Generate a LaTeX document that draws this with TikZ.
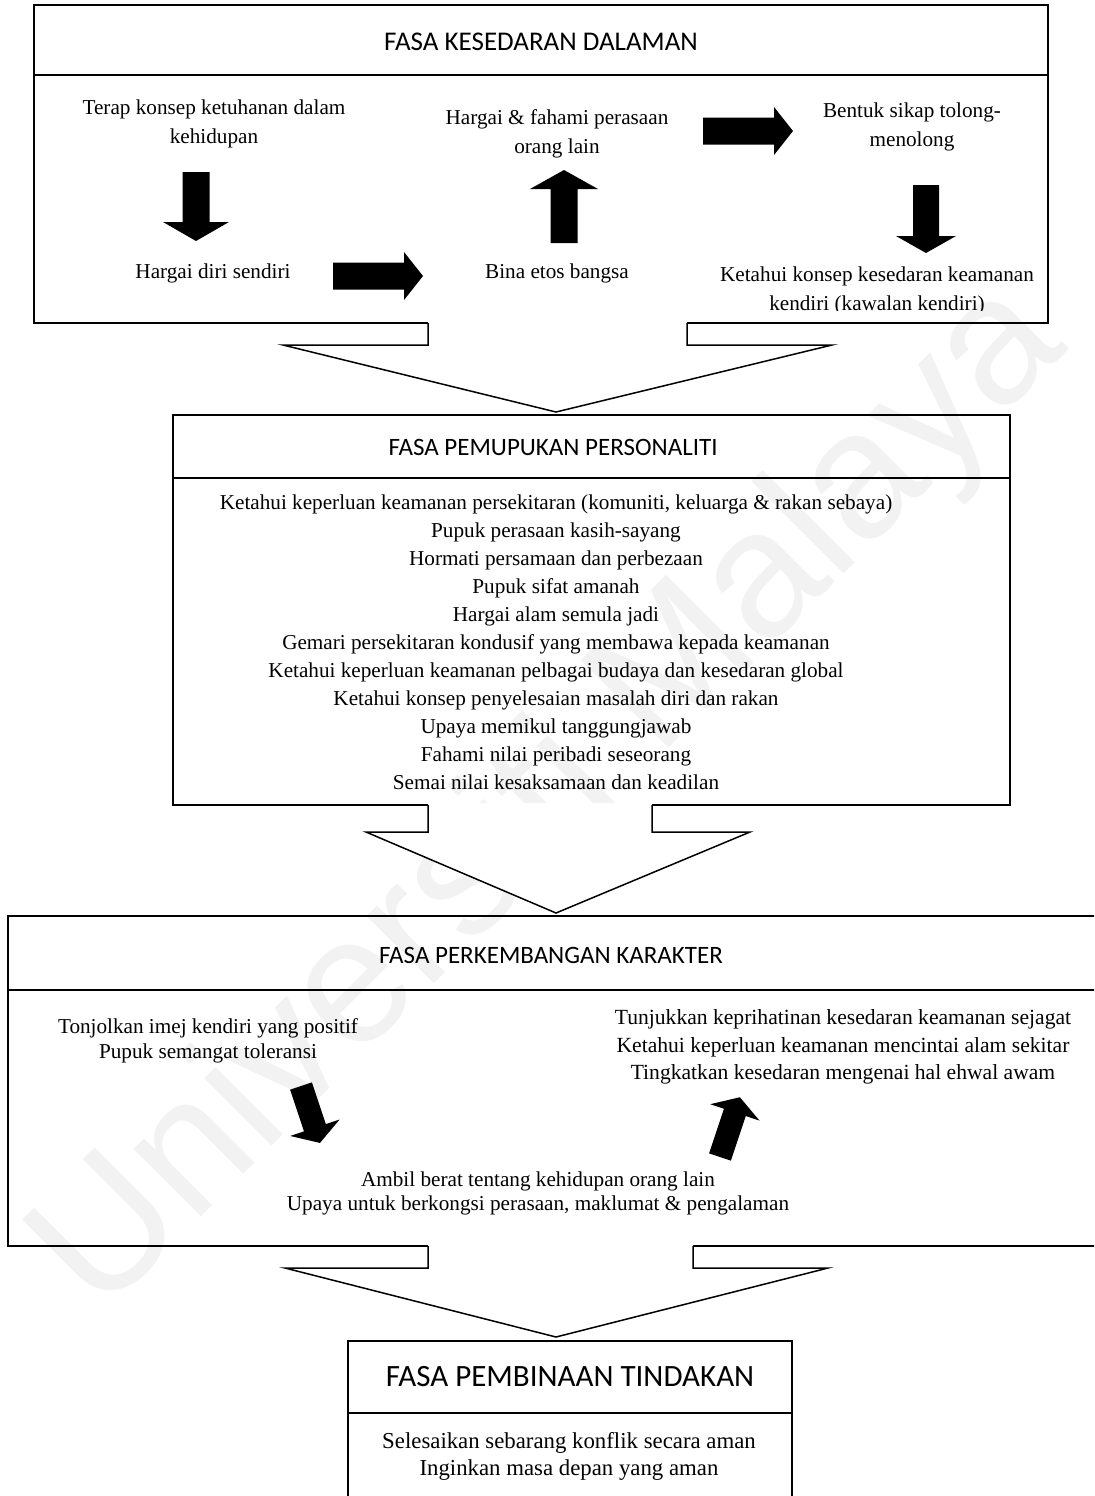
\documentclass[tikz,border=0pt]{standalone}
\usepackage{fontspec}
\setmainfont{Liberation Serif}
\newfontfamily\titlefont{Carlito}
\newfontfamily\markfont{Liberation Sans}
\begin{document}
\begin{tikzpicture}[x=0.5pt,y=-0.5pt,
  frame/.style={line width=1pt},
  funnel/.style={line width=0.75pt, line join=miter},
  body/.style={font=\fontsize{10.6pt}{14pt}\selectfont, align=center, inner sep=0pt},
  bodyA/.style={font=\fontsize{10.6pt}{14.5pt}\selectfont, align=center, inner sep=0pt},
  ttl/.style={font=\titlefont\fontsize{#1}{#1}\selectfont, inner sep=0pt},
  pics/blockarrow/.style args={#1/#2/#3/#4}{code={
    % arrow along +x: length / shaft width / head width / head length
    \fill[black] (0,{-#2/2}) -- ({#1-#4},{-#2/2}) -- ({#1-#4},{-#3/2}) -- (#1,0)
      -- ({#1-#4},{#3/2}) -- ({#1-#4},{#2/2}) -- (0,{#2/2}) -- cycle;
  }}]
\clip (0,0) rectangle (1094,1496);
\fill[white] (0,0) rectangle (1094,1496);

% faint watermark behind everything
\node[font=\markfont\fontsize{90pt}{90pt}\selectfont, text=black!5, rotate=45] (mark) at (552,800) {Universiti Malaya};

% ---------- phase 1 ----------
\coordinate (f1nw) at (34,5);
\coordinate (f1se) at (1048,323);
\draw[frame] (f1nw) rectangle (f1se);
\draw[frame] (34,75) -- (1048,75);
\node[ttl=13.5pt] (t1) at (541,42) {FASA KESEDARAN DALAMAN};

\node[bodyA] (a1) at (214,124) {Terap konsep ketuhanan dalam\\kehidupan};
\node[bodyA] (a2) at (213,273) {Hargai diri sendiri};
\node[bodyA] (a3) at (557,273) {Bina etos bangsa};
\node[bodyA] (a4) at (557,134) {Hargai \& fahami perasaan\\orang lain};
\node[bodyA] (a5) at (912,127) {Bentuk sikap tolong-\\menolong};
\begin{scope}
  \clip (34,75) rectangle (1048,310);
  \node[bodyA] (a6) at (877,291) {Ketahui konsep kesedaran keamanan\\kendiri (kawalan kendiri)};
\end{scope}

\pic[rotate=-90] (k1) at (196,172) {blockarrow={69/27/66/19}};
\pic (k2) at (333,276) {blockarrow={90/27/48/19}};
\pic[rotate=90] (k3) at (564,243) {blockarrow={73/27/68/19}};
\pic (k4) at (703,131) {blockarrow={90/27/48/19}};
\pic[rotate=-90] (k5) at (926,185) {blockarrow={68/26/60/17}};

% funnel 1 -> 2
\fill[white] (428,321) -- (428,345) -- (283,345) -- (556,412) -- (832,345) -- (687,345) -- (687,321) -- cycle;
\draw[funnel] (428,323) -- (428,345) -- (283,345) -- (556,412) -- (832,345) -- (687,345) -- (687,323);

% ---------- phase 2 ----------
\draw[frame] (173,415) rectangle (1010,805);
\draw[frame] (173,478) -- (1010,478);
\node[ttl=12.5pt] (t2) at (553,447) {FASA PEMUPUKAN PERSONALITI};
\node[body] (b1) at (556,642) {Ketahui keperluan keamanan persekitaran (komuniti, keluarga \& rakan sebaya)\\
  Pupuk perasaan kasih-sayang\\
  Hormati persamaan dan perbezaan\\
  Pupuk sifat amanah\\
  Hargai alam semula jadi\\
  Gemari persekitaran kondusif yang membawa kepada keamanan\\
  Ketahui keperluan keamanan pelbagai budaya dan kesedaran global\\
  Ketahui konsep penyelesaian masalah diri dan rakan\\
  Upaya memikul tanggungjawab\\
  Fahami nilai peribadi seseorang\\
  Semai nilai kesaksamaan dan keadilan};

% funnel 2 -> 3
\fill[white] (428,803) -- (428,832) -- (366,832) -- (556,913) -- (750,832) -- (652,832) -- (652,803) -- cycle;
\draw[funnel] (428,805) -- (428,832) -- (366,832) -- (556,913) -- (750,832) -- (652,832) -- (652,805);

% ---------- phase 3 ----------
\draw[frame] (8,916) rectangle (1120,1246);
\draw[frame] (8,990) -- (1120,990);
\node[ttl=12.5pt] (t3) at (551,955) {FASA PERKEMBANGAN KARAKTER};
\node[font=\fontsize{10.6pt}{12.5pt}\selectfont, align=center, inner sep=0pt] (c1) at (208,1041)
  {Tonjolkan imej kendiri yang positif\\Pupuk semangat toleransi};
\node[font=\fontsize{10.8pt}{13.75pt}\selectfont, align=center, inner sep=0pt] (c2) at (843,1047)
  {Tunjukkan keprihatinan kesedaran keamanan sejagat\\Ketahui keperluan keamanan mencintai alam sekitar\\Tingkatkan kesedaran mengenai hal ehwal awam};
\node[font=\fontsize{10.6pt}{12pt}\selectfont, align=center, inner sep=0pt] (c3) at (538,1193)
  {Ambil berat tentang kehidupan orang lain\\Upaya untuk berkongsi perasaan, maklumat \& pengalaman};
\pic[rotate=-71.6] (k6) at (301,1086) {blockarrow={60/23/52/16}};
\pic[rotate=71.6] (k7) at (720,1157) {blockarrow={63/23/52/16}};

% funnel 3 -> 4
\fill[white] (428,1244) -- (428,1268) -- (285,1268) -- (556,1337) -- (828,1268) -- (693,1268) -- (693,1244) -- cycle;
\draw[funnel] (428,1246) -- (428,1268) -- (285,1268) -- (556,1337) -- (828,1268) -- (693,1268) -- (693,1246);

% ---------- phase 4 ----------
\draw[frame] (348,1341) rectangle (792,1530);
\draw[frame] (348,1413) -- (792,1413);
\node[ttl=15.5pt] (t4) at (570,1377) {FASA PEMBINAAN TINDAKAN};
\node[font=\fontsize{11.4pt}{13.5pt}\selectfont, align=center, inner sep=0pt] (d1) at (569,1456)
  {Selesaikan sebarang konflik secara aman\\Inginkan masa depan yang aman};
\end{tikzpicture}
\end{document}
